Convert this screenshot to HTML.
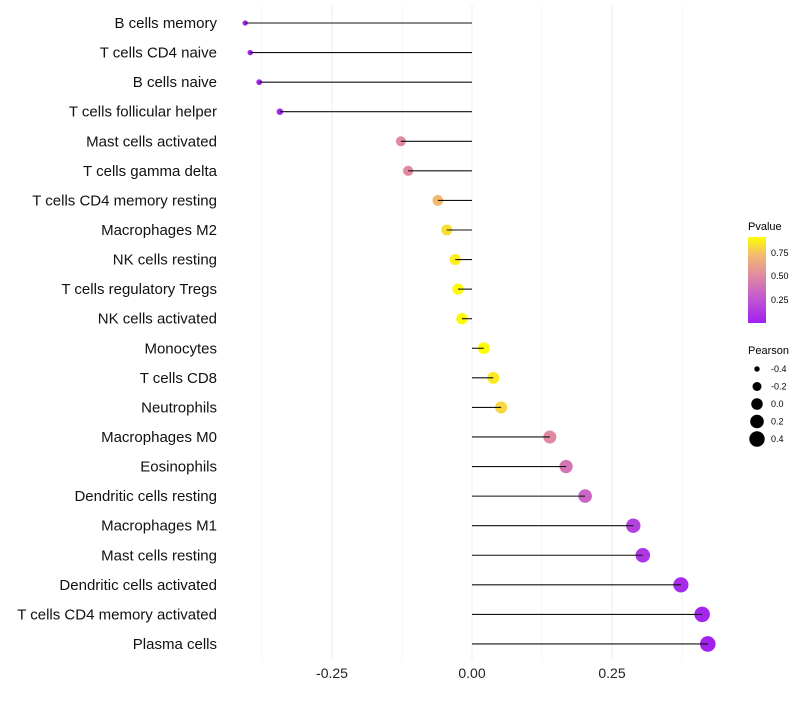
<!DOCTYPE html>
<html><head><meta charset="utf-8"><style>
body{margin:0;background:#fff;font-family:"Liberation Sans",sans-serif}
</style></head><body>
<svg id="c" width="800" height="700" xmlns="http://www.w3.org/2000/svg">
<defs><linearGradient id="pg" x1="0" y1="1" x2="0" y2="0">
<stop offset="0" stop-color="#a020f0"/><stop offset="0.3" stop-color="#c45ad0"/><stop offset="0.55" stop-color="#df8aa0"/><stop offset="0.8" stop-color="#f3bc6c"/><stop offset="1" stop-color="#ffff00"/></linearGradient></defs>
<g id="grid"></g><g id="dots"></g><g id="stems"></g><g id="labels"></g>
<g>
<text x="748" y="230" font-size="11">Pvalue</text>
<rect x="748" y="237" width="18" height="86" fill="url(#pg)"/>
<text x="771" y="256" font-size="9">0.75</text><text x="771" y="279" font-size="9">0.50</text><text x="771" y="303" font-size="9">0.25</text>
</g>
<g>
<text x="748" y="354" font-size="11">Pearson</text>
<g id="sizeleg"></g>
</g>
</svg>
<script>
const cats=["B cells memory","T cells CD4 naive","B cells naive","T cells follicular helper","Mast cells activated","T cells gamma delta","T cells CD4 memory resting","Macrophages M2","NK cells resting","T cells regulatory  Tregs ","NK cells activated","Monocytes","T cells CD8","Neutrophils","Macrophages M0","Eosinophils","Dendritic cells resting","Macrophages M1","Mast cells resting","Dendritic cells activated","T cells CD4 memory activated","Plasma cells"];
const pearson=[-0.405,-0.396,-0.380,-0.343,-0.127,-0.114,-0.061,-0.045,-0.030,-0.025,-0.018,0.021,0.038,0.052,0.139,0.168,0.202,0.288,0.305,0.373,0.411,0.421];
const pvals=[0.01,0.01,0.02,0.04,0.5,0.5,0.72,0.82,0.86,0.9,0.9,0.9,0.85,0.8,0.5,0.4,0.33,0.15,0.1,0.05,0.03,0.01];
const xTicks=[-0.25,0,0.25];
const xTickLabels=["-0.25","0.00","0.25"];
const sizeLegend=[-0.4,-0.2,0,0.2,0.4];
const NS="http://www.w3.org/2000/svg";
const X=v=>472+v*560;
const Y=i=>23+i*29.57;
const R=v=>Math.sqrt(4+ (v+0.45)*65);
const stops=[[0,[160,32,240]],[0.3,[196,90,208]],[0.55,[223,138,160]],[0.8,[243,188,108]],[1,[255,255,0]]];
function col(p){let t=Math.min(1,Math.max(0,p/0.91));for(let k=1;k<stops.length;k++){if(t<=stops[k][0]){const a=stops[k-1],b=stops[k],f=(t-a[0])/(b[0]-a[0]);return "rgb("+a[1].map((c,j)=>Math.round(c+(b[1][j]-c)*f)).join(",")+")";}}return "rgb(255,255,0)";}
function mk(t,at,par){const e=document.createElementNS(NS,t);for(const k in at)e.setAttribute(k,at[k]);par.appendChild(e);return e;}
const g=document.getElementById('grid'),dg=document.getElementById('dots'),sg=document.getElementById('stems'),l=document.getElementById('labels');
[-0.375,-0.125,0.125,0.375].forEach(v=>{const e=mk('line',{x1:X(v),x2:X(v),y1:5,y2:660,stroke:'#f4f4f4','stroke-width':1},g);

});
xTicks.forEach((v,i)=>{const e=mk('line',{x1:X(v),x2:X(v),y1:5,y2:660,stroke:'#ededed','stroke-width':1},g);


const t=mk('text',{x:X(v),y:678,'font-size':14,'text-anchor':'middle',fill:'#222'},l);t.textContent=xTickLabels[i];

});
cats.forEach((c,i)=>{const y=Y(i);
const t=mk('text',{x:217,y:y+5,'font-size':15,'text-anchor':'end',fill:'#111'},l);t.textContent=c;


const d=mk('circle',{cx:X(pearson[i]),cy:y,r:R(pearson[i]),fill:col(pvals[i])},dg);


const s=mk('line',{x1:X(0),x2:X(pearson[i]),y1:y,y2:y,stroke:'#111','stroke-width':1.1},sg);

});
const sl=document.getElementById('sizeleg');
sizeLegend.forEach((v,i)=>{const y=369+i*17.5;
const d=mk('circle',{cx:757,cy:y,r:R(v),fill:'#000'},sl);


const t=mk('text',{x:771,y:y+3,'font-size':9},sl);t.textContent=v.toFixed(1);

});
</script>
</body></html>
